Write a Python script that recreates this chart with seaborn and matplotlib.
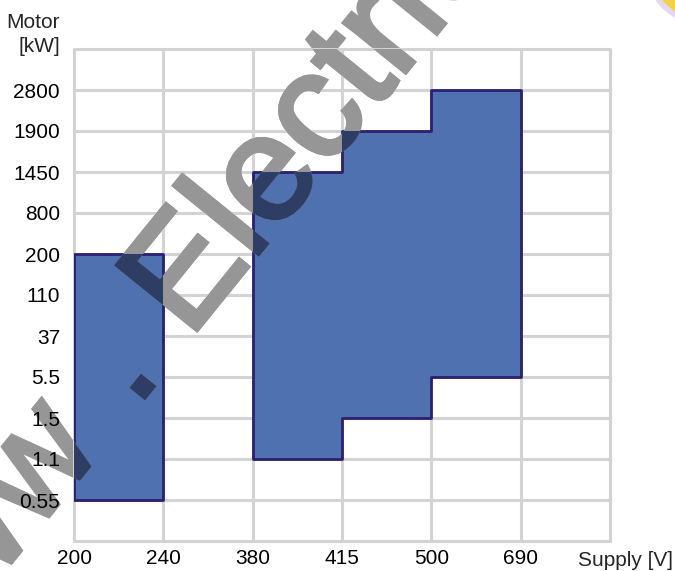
import matplotlib
matplotlib.use("Agg")
from matplotlib import pyplot as plt
from matplotlib.textpath import TextPath
from matplotlib.patches import PathPatch, Circle
from matplotlib.font_manager import FontProperties
from matplotlib.transforms import Affine2D, IdentityTransform
import seaborn as sns

# data
supply = ["200", "240", "380", "415", "500", "690"]
motor = ["0.55", "1.1", "1.5", "5.5", "37", "110", "200", "800", "1450", "1900", "2800"]

# first block: 200-240 V
block1_x = ["200", "240"]
block1_low = ["0.55", "0.55"]
block1_high = ["200", "200"]

# second block: 380-690 V, stepped
block2_x = ["380", "415", "500", "690"]
block2_low = ["1.1", "1.5", "5.5", "5.5"]
block2_high = ["1450", "1900", "2800", "2800"]

sns.set_style("white")
plt.rcParams["font.family"] = ["Liberation Sans", "DejaVu Sans"]

W, H = 675, 571
fig = plt.figure(figsize=(W / 100, H / 100), dpi=100)
ax = fig.add_axes([74 / W, 1 - 541 / H, 536 / W, 492 / H])
ax.patch.set_visible(False)  # so the watermark underneath shows through

xpos = lambda vals: [supply.index(v) for v in vals]
ypos = lambda vals: [motor.index(v) + 1 for v in vals]

fill_col = "#4f71b0"
edge_col = "#2b2070"
polys = []
polys.append(ax.fill_between(xpos(block1_x), ypos(block1_low), ypos(block1_high),
                             step="post", facecolor=fill_col, edgecolor=edge_col, lw=2, zorder=3))
polys.append(ax.fill_between(xpos(block2_x), ypos(block2_low), ypos(block2_high),
                             step="post", facecolor=fill_col, edgecolor=edge_col, lw=2, zorder=3))

ax.set_xlim(0, len(supply))
ax.set_ylim(0, len(motor) + 1)
ax.set_xticks(range(len(supply) + 1), labels=supply + [""])
ax.set_yticks(range(len(motor) + 2), labels=[""] + motor + [""])
ax.tick_params(length=0, labelsize=15, colors="black")
ax.tick_params(axis="x", pad=6)
ax.tick_params(axis="y", pad=10)
ax.grid(True, color="#d3d3d3", lw=2.2)
for line in ax.get_xgridlines() + ax.get_ygridlines():
    line.set_clip_on(False)
sns.despine(ax=ax, left=True, bottom=True)

fig.text(60 / W, 1 - 22 / H, "Motor", ha="right", va="center", fontsize=15)
fig.text(60 / W, 1 - 47 / H, "[kW]", ha="right", va="center", fontsize=15)
fig.text(673 / W, 1 - 560 / H, "Supply [V]", ha="right", va="center", fontsize=15)

# watermark: gray under the labels, gray over the grid, dark navy on the blue
fp = FontProperties(family="Liberation Sans")
size = 150
angle = 51
p_www = TextPath((0, 0), "www", size=size, prop=fp)
p_dot = TextPath((0, 0), ".", size=size, prop=fp)
p_rest = TextPath((0, 0), "Electrical-Engineering-Portal.com", size=size, prop=fp)
e_www, e_dot, e_rest = p_www.get_extents(), p_dot.get_extents(), p_rest.get_extents()
dot_h = e_dot.y1 - e_dot.y0

at_dot = Affine2D().rotate_deg(angle).translate(143, H - 387)
t_www = Affine2D().translate(-e_www.x1 - 73, -dot_h / 2) + at_dot
t_dot = Affine2D().translate(-(e_dot.x0 + e_dot.x1) / 2, -(e_dot.y0 + e_dot.y1) / 2) + at_dot
t_rest = Affine2D().translate(-e_rest.x0, 0).rotate_deg(angle).translate(197, H - 330)

gray = "#969696"
navy = "#2e3d63"
for path, tr in [(p_www, t_www), (p_dot, t_dot), (p_rest, t_rest)]:
    fig.add_artist(PathPatch(path, transform=tr, facecolor=gray, edgecolor=gray, lw=3, zorder=-1))
    over = PathPatch(path, transform=tr, facecolor=gray, edgecolor=gray, lw=3, zorder=5)
    over.set_clip_path(ax.patch)
    fig.add_artist(over)
    for poly in polys:
        pp = PathPatch(path, transform=tr, facecolor=navy, edgecolor=navy, lw=3, zorder=6)
        pp.set_clip_path(poly.get_paths()[0], ax.transData)
        fig.add_artist(pp)

# bit of a yellow logo in the top right corner
fig.add_artist(Circle((705, H + 35), 58, transform=IdentityTransform(),
                      facecolor="#efd24a", edgecolor="#e3d8ee", lw=4, zorder=5))

fig.savefig("out.png", dpi=100)
